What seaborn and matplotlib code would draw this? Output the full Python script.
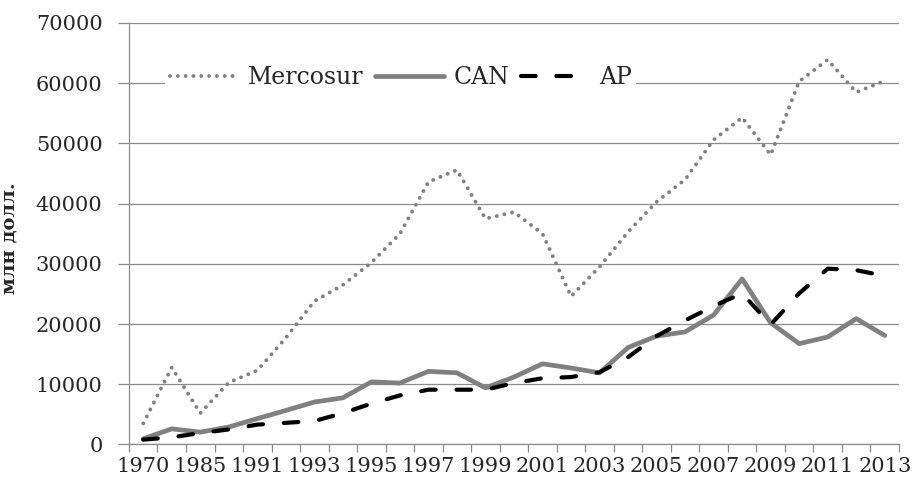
import matplotlib
matplotlib.use("Agg")
import numpy as np
import pandas as pd
import matplotlib.pyplot as plt
import seaborn as sns
from matplotlib.ticker import FixedLocator

# --- Datos --- #
AÑOS = [1970, 1980, 1985, 1990, 1991, 1992, 1993, 1994, 1995, 1996, 1997, 1998, 1999,
        2000, 2001, 2002, 2003, 2004, 2005, 2006, 2007, 2008, 2009, 2010, 2011, 2012, 2013]

MERCOSUR = [3500, 12800, 5200, 10300, 12300, 17700, 23800, 26500, 30200, 35000, 43600,
            45600, 37500, 38600, 35000, 24600, 29500, 35300, 40300, 44000, 50600, 54300,
            48100, 60300, 63900, 58500, 60400]
CAN = [950, 2600, 2050, 2900, 4300, 5650, 7050, 7750, 10400, 10200, 12150, 11900, 9400,
       11200, 13400, 12700, 11900, 16100, 18000, 18700, 21500, 27500, 20200, 16750, 17850,
       20900, 18100]
AP = [800, 1200, 1900, 2500, 3300, 3600, 3900, 5200, 6800, 8150, 9100, 9100, 9100, 10200,
      11000, 11200, 12000, 14500, 18000, 20600, 23000, 25100, 19900, 25100, 29200, 28950,
      28000]

Y_TICKS = [0, 10000, 20000, 30000, 40000, 50000, 60000, 70000]
GRIS = "#808080"
GRIS_EJE = "#8c8c8c"

df = pd.DataFrame({
    "pos": np.arange(len(AÑOS)),
    "Mercosur": MERCOSUR,
    "CAN": CAN,
    "AP": AP,
})

sns.set_style("white")
plt.rcParams["font.family"] = ["DejaVu Serif"]

fig = plt.figure(figsize=(9.14, 4.86), dpi=100)
ax = fig.add_axes([0.1411, 0.0854, 0.8425, 0.8673])

sns.lineplot(data=df, x="pos", y="Mercosur", ax=ax, color=GRIS, linewidth=2.8,
             linestyle=(0, (0.01, 2.0)), dash_capstyle="round", label="Mercosur")
sns.lineplot(data=df, x="pos", y="CAN", ax=ax, color=GRIS, linewidth=3.4,
             label="CAN")
sns.lineplot(data=df, x="pos", y="AP", ax=ax, color="black", linewidth=3.0,
             linestyle=(0, (3.5, 5)), dash_capstyle="round", label="AP")

ax.set_xlim(-0.5, len(AÑOS) - 0.5)
ax.set_ylim(0, 70000)
ax.set_yticks(Y_TICKS)
ax.set_yticklabels([str(v) for v in Y_TICKS])
ax.yaxis.grid(True, color=GRIS_EJE, linewidth=0.9)
ax.set_axisbelow(True)

# etiquetas cada dos categorías, marcas entre categorías
ax.set_xticks(np.arange(0, len(AÑOS), 2))
ax.set_xticklabels([str(a) for a in AÑOS[::2]])
ax.xaxis.set_minor_locator(FixedLocator(np.arange(-0.5, len(AÑOS), 1)))
ax.tick_params(axis="x", which="major", length=0, pad=9, labelsize=15)
ax.tick_params(axis="x", which="minor", length=6, width=0.9, color=GRIS_EJE,
               direction="out", bottom=True)
ax.tick_params(axis="y", length=8, width=0.9, color=GRIS_EJE, pad=11, labelsize=15,
               left=True, direction="out")

for lado in ["top", "right"]:
    ax.spines[lado].set_visible(False)
for lado in ["left", "bottom"]:
    ax.spines[lado].set_color(GRIS_EJE)
    ax.spines[lado].set_linewidth(0.9)

ax.set_xlabel("")
ax.set_ylabel("млн долл.", fontsize=14, fontweight="bold")
ax.yaxis.set_label_coords(-0.143, 0.49)

leg = ax.legend(loc="center", bbox_to_anchor=(0.353, 0.87), ncol=3, fontsize=17,
                frameon=True, facecolor="white", edgecolor="none", framealpha=1,
                handlelength=2.9, handletextpad=0.4, columnspacing=0.5,
                borderpad=0.2, fancybox=False)

fig.savefig("out.png", dpi=100)
